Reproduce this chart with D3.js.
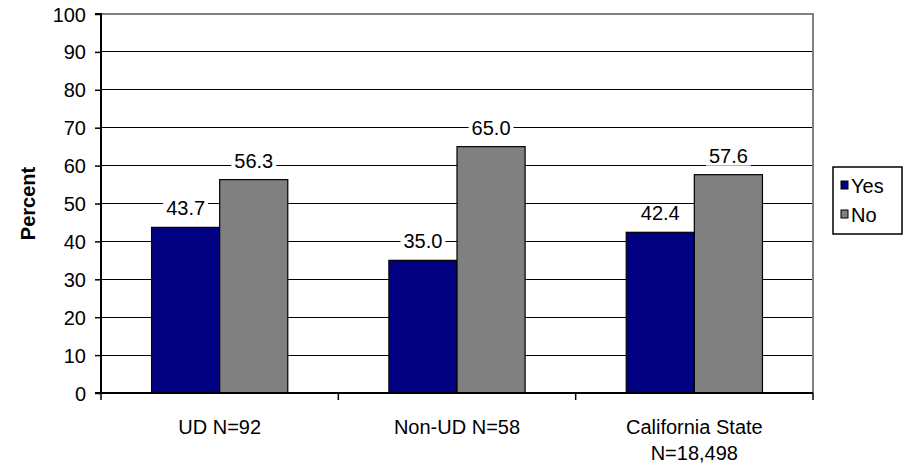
<!DOCTYPE html>
<html>
<head>
<meta charset="utf-8">
<script src="https://cdn.jsdelivr.net/npm/d3@7"></script>
<style>
  html, body { margin: 0; padding: 0; background: #fff; }
  svg { display: block; font-family: "Liberation Sans", Arial, sans-serif; }
</style>
</head>
<body>
<svg id="chart" width="912" height="465"></svg>
<script>
// Survey responses by group
const categories = [["UD N=92"], ["Non-UD N=58"], ["California State", "N=18,498"]];
const seriesNames = ["Yes", "No"];
const yesValues = [43.7, 35.0, 42.4];
const noValues = [56.3, 65.0, 57.6];
const yTicks = [0, 10, 20, 30, 40, 50, 60, 70, 80, 90, 100];
const colors = { Yes: "#000080", No: "#808080" };

const svg = d3.select("#chart");
const plot = { left: 101, right: 813, top: 14, bottom: 393 };
const fontSize = 20;

const catKeys = categories.map(c => c.join(" "));
const x0 = d3.scaleBand().domain(catKeys).range([plot.left, plot.right]).padding(0);
const bw = x0.bandwidth();
const gap = bw * 0.426;
const x1 = d3.scaleBand().domain(seriesNames).range([gap / 2, bw - gap / 2]).padding(0);
const y = d3.scaleLinear().domain([0, 100]).range([plot.bottom, plot.top]);

// gridlines
svg.append("g")
  .selectAll("line")
  .data(yTicks.filter(t => t > 0 && t < 100))
  .join("line")
  .attr("x1", plot.left).attr("x2", plot.right)
  .attr("y1", d => y(d)).attr("y2", d => y(d))
  .attr("stroke", "#000").attr("stroke-width", 1)
  .attr("shape-rendering", "crispEdges");

// plot frame: top and right edges
svg.append("path")
  .attr("d", `M${plot.left},${y(100)}H${plot.right}V${plot.bottom}`)
  .attr("fill", "none").attr("stroke", "#808080").attr("stroke-width", 2);

// bars
const rows = catKeys.map((k, i) => ({ key: k, vals: [
  { s: "Yes", v: yesValues[i] }, { s: "No", v: noValues[i] }] }));

const groups = svg.append("g").selectAll("g")
  .data(rows).join("g")
  .attr("transform", d => `translate(${x0(d.key)},0)`);

groups.selectAll("rect")
  .data(d => d.vals).join("rect")
  .attr("x", d => x1(d.s)).attr("width", x1.bandwidth())
  .attr("y", d => y(d.v)).attr("height", d => y(0) - y(d.v))
  .attr("fill", d => colors[d.s])
  .attr("stroke", "#000").attr("stroke-width", 1.2);

// value labels with white backing
const labels = groups.selectAll("g.lbl")
  .data(d => d.vals).join("g").attr("class", "lbl")
  .attr("transform", d => `translate(${x1(d.s) + x1.bandwidth() / 2},${y(d.v) - 12})`);
labels.append("rect")
  .attr("fill", "#fff");
labels.append("text")
  .attr("text-anchor", "middle")
  .attr("font-size", fontSize)
  .attr("fill", "#000")
  .text(d => d.v.toFixed(1));
labels.each(function () {
  const g = d3.select(this);
  const bb = g.select("text").node().getBBox();
  g.select("rect").attr("x", bb.x - 3).attr("width", bb.width + 6)
    .attr("y", -15).attr("height", 18);
});

// y axis
const yAxis = d3.axisLeft(y).tickValues(yTicks).tickSize(6).tickPadding(9);
const yg = svg.append("g").attr("transform", `translate(${plot.left},0)`).call(yAxis);
yg.select(".domain").attr("stroke", "#000").attr("stroke-width", 2).attr("d", `M-6,${plot.top}H0V${plot.bottom}H-6`);
yg.selectAll(".tick line").attr("stroke", "#000").attr("stroke-width", 1.5);
yg.selectAll(".tick text").attr("font-size", fontSize).attr("fill", "#000")
  .attr("font-family", "Liberation Sans, Arial, sans-serif").attr("dy", "0.35em");

// x axis
const xg = svg.append("g").attr("transform", `translate(0,${plot.bottom})`);
xg.append("line")
  .attr("x1", plot.left).attr("x2", plot.right)
  .attr("stroke", "#000").attr("stroke-width", 2);
xg.selectAll("line.tick")
  .data(catKeys.map(k => x0(k)).concat([plot.right]))
  .join("line").attr("class", "tick")
  .attr("x1", d => d).attr("x2", d => d)
  .attr("y1", 0).attr("y2", 7)
  .attr("stroke", "#000").attr("stroke-width", 1.5);
const xl = xg.selectAll("text.cat")
  .data(categories).join("text").attr("class", "cat")
  .attr("text-anchor", "middle")
  .attr("font-size", fontSize)
  .attr("x", (d, i) => x0(catKeys[i]) + bw / 2)
  .attr("y", 41);
xl.selectAll("tspan").data(d => d).join("tspan")
  .attr("x", function () { return d3.select(this.parentNode).attr("x"); })
  .attr("dy", (d, i) => i === 0 ? 0 : 26)
  .text(d => d);

// y axis title
svg.append("text")
  .attr("transform", `translate(35,${(plot.top + plot.bottom) / 2}) rotate(-90)`)
  .attr("text-anchor", "middle")
  .attr("font-size", 20).attr("font-weight", "bold")
  .text("Percent");

// legend
const lg = svg.append("g").attr("transform", "translate(833,167)");
lg.append("rect").attr("width", 69).attr("height", 67)
  .attr("fill", "#fff").attr("stroke", "#000").attr("stroke-width", 1.5);
const li = lg.selectAll("g.item").data(seriesNames).join("g").attr("class", "item")
  .attr("transform", (d, i) => `translate(8,${14 + i * 29})`);
li.append("rect").attr("width", 7).attr("height", 8)
  .attr("fill", d => colors[d]).attr("stroke", "#000").attr("stroke-width", 1);
li.append("text").attr("x", 10).attr("y", 12)
  .attr("font-size", fontSize).text(d => d);
</script>
</body>
</html>
